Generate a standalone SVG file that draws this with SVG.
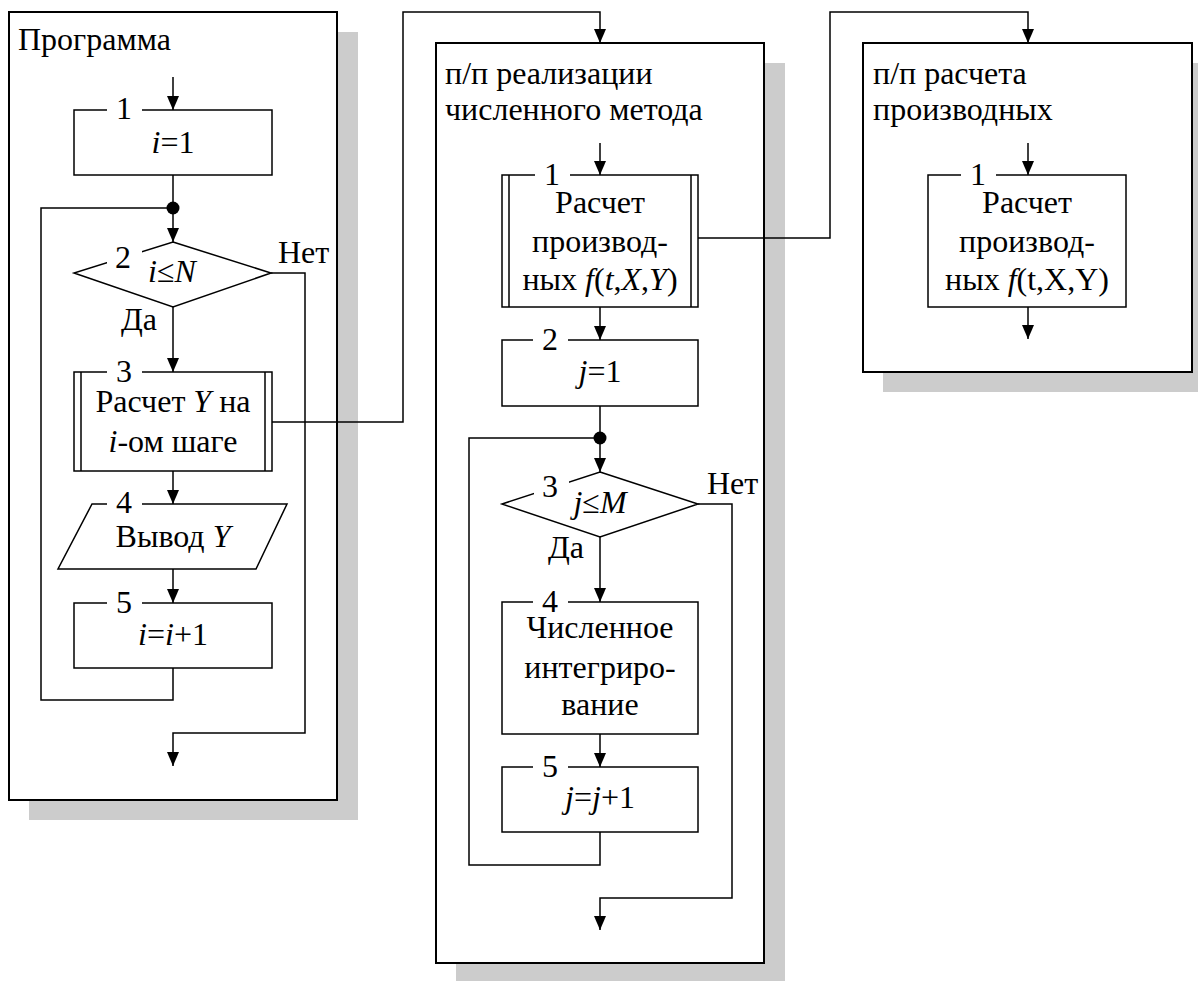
<svg xmlns="http://www.w3.org/2000/svg" width="1198" height="981" viewBox="0 0 1198 981">
<defs>
<marker id="arr" markerUnits="userSpaceOnUse" markerWidth="14" markerHeight="14" viewBox="0 0 14 14" refX="14" refY="7" orient="auto">
<path d="M0,1 L14,7 L0,13 Z" fill="#000"/>
</marker>
<style>
text{font-family:'Liberation Serif',serif;font-size:32px;fill:#000}
.c{text-anchor:middle}
.it{font-style:italic}
.shadow{fill:#cccccc;stroke:none}
.frame{fill:#fff;stroke:#000;stroke-width:2}
.box{fill:#fff;stroke:#000;stroke-width:1.5}
.ln{fill:none;stroke:#000;stroke-width:1.5}
.gap{fill:#fff;stroke:none}
</style>
</defs>
<rect width="1198" height="981" fill="#fff"/>
<g id="shadows">
<rect class="shadow" x="29" y="32" width="329" height="788"/>
<rect class="shadow" x="456" y="63" width="329" height="920"/>
<rect class="shadow" x="883" y="63" width="329" height="329"/>
</g>
<g id="frame-program">
<rect class="frame" x="9" y="12" width="328" height="788"/>
<text x="18" y="50">Программа</text>
</g>
<g id="frame-method">
<rect class="frame" x="436" y="43" width="328" height="920"/>
<text x="445" y="84">п/п реализации</text>
<text x="445" y="120">численного метода</text>
</g>
<g id="frame-deriv">
<rect class="frame" x="863" y="43" width="329" height="329"/>
<text x="873" y="84">п/п расчета</text>
<text x="873" y="120">производных</text>
</g>
<g id="connectors">
<path class="ln" d="M173,77 V110" marker-end="url(#arr)"/>
<path class="ln" d="M173,175 V208"/>
<path class="ln" d="M173,208 V242" marker-end="url(#arr)"/>
<path class="ln" d="M173,307 V372" marker-end="url(#arr)"/>
<path class="ln" d="M173,471 V504" marker-end="url(#arr)"/>
<path class="ln" d="M173,569 V603" marker-end="url(#arr)"/>
<path class="ln" d="M173,668 V700 H41 V208 H173"/>
<path class="ln" d="M271,273 H305 V733 H173 V766" marker-end="url(#arr)"/>
<path class="ln" d="M272,422 H403 V12 H600 V43" marker-end="url(#arr)"/>
<path class="ln" d="M600,143 V175" marker-end="url(#arr)"/>
<path class="ln" d="M600,307 V340" marker-end="url(#arr)"/>
<path class="ln" d="M600,406 V438"/>
<path class="ln" d="M600,438 V472" marker-end="url(#arr)"/>
<path class="ln" d="M600,537 V602" marker-end="url(#arr)"/>
<path class="ln" d="M600,734 V767" marker-end="url(#arr)"/>
<path class="ln" d="M600,832 V865 H469 V438 H600"/>
<path class="ln" d="M698,504 H732 V898 H600 V930" marker-end="url(#arr)"/>
<path class="ln" d="M698,238 H830 V12 H1028 V43" marker-end="url(#arr)"/>
<path class="ln" d="M1028,143 V175" marker-end="url(#arr)"/>
<path class="ln" d="M1028,307 V339" marker-end="url(#arr)"/>
<circle cx="173" cy="208" r="6.5" fill="#000"/>
<circle cx="600" cy="438" r="6.5" fill="#000"/>
<text x="278" y="263">Нет</text>
<text x="121" y="330">Да</text>
<text x="707" y="494">Нет</text>
<text x="548" y="558">Да</text>
</g>
<g id="p1">
<rect class="box" x="74" y="110" width="198" height="65"/>
<rect class="gap" x="107" y="105" width="35" height="10"/>
<text class="c" x="124" y="119">1</text>
<text class="c" x="173" y="153"><tspan class="it">i</tspan>=1</text>
</g>
<g id="p2">
<path class="box" d="M173,242 L271,273 L173,307 L74,273 Z"/>
<rect class="gap" x="107" y="248" width="35" height="17"/>
<text class="c" x="123" y="268">2</text>
<text class="c" x="172" y="282"><tspan class="it">i</tspan>≤<tspan class="it">N</tspan></text>
</g>
<g id="p3">
<rect class="box" x="74" y="372" width="198" height="99"/>
<path class="ln" d="M81,372 V471 M265,372 V471"/>
<rect class="gap" x="107" y="367" width="35" height="10"/>
<text class="c" x="124" y="382">3</text>
<text class="c" x="173" y="412">Расчет <tspan class="it">Y</tspan> на</text>
<text class="c" x="173" y="452"><tspan class="it">i</tspan>-ом шаге</text>
</g>
<g id="p4">
<path class="box" d="M92,504 H287 L256,569 H58 Z"/>
<rect class="gap" x="107" y="499" width="35" height="10"/>
<text class="c" x="124" y="513">4</text>
<text class="c" x="173" y="547">Вывод <tspan class="it">Y</tspan></text>
</g>
<g id="p5">
<rect class="box" x="74" y="603" width="198" height="65"/>
<rect class="gap" x="107" y="598" width="35" height="10"/>
<text class="c" x="124" y="613">5</text>
<text class="c" x="173" y="645"><tspan class="it">i</tspan>=<tspan class="it">i</tspan>+1</text>
</g>
<g id="m1">
<rect class="box" x="502" y="175" width="196" height="132"/>
<path class="ln" d="M509,175 V307 M691,175 V307"/>
<rect class="gap" x="535" y="170" width="35" height="10"/>
<text class="c" x="552" y="185">1</text>
<text class="c" x="600" y="213">Расчет</text>
<text class="c" x="600" y="252">производ-</text>
<text class="c" x="600" y="290">ных <tspan class="it">f</tspan>(<tspan class="it">t</tspan>,<tspan class="it">X</tspan>,<tspan class="it">Y</tspan>)</text>
</g>
<g id="m2">
<rect class="box" x="502" y="340" width="196" height="66"/>
<rect class="gap" x="533" y="335" width="35" height="10"/>
<text class="c" x="550" y="350">2</text>
<text class="c" x="600" y="382"><tspan class="it">j</tspan>=1</text>
</g>
<g id="m3">
<path class="box" d="M600,472 L698,504 L600,537 L502,504 Z"/>
<rect class="gap" x="534" y="478" width="35" height="17"/>
<text class="c" x="550" y="497">3</text>
<text class="c" x="600" y="513"><tspan class="it">j</tspan>≤<tspan class="it">M</tspan></text>
</g>
<g id="m4">
<rect class="box" x="502" y="602" width="196" height="132"/>
<rect class="gap" x="533" y="597" width="35" height="10"/>
<text class="c" x="550" y="612">4</text>
<text class="c" x="600" y="638">Численное</text>
<text class="c" x="600" y="678">интегриро-</text>
<text class="c" x="600" y="715">вание</text>
</g>
<g id="m5">
<rect class="box" x="502" y="767" width="196" height="65"/>
<rect class="gap" x="533" y="762" width="35" height="10"/>
<text class="c" x="550" y="777">5</text>
<text class="c" x="600" y="808"><tspan class="it">j</tspan>=<tspan class="it">j</tspan>+1</text>
</g>
<g id="d1">
<rect class="box" x="928" y="175" width="198" height="132"/>
<rect class="gap" x="961" y="170" width="35" height="10"/>
<text class="c" x="978" y="185">1</text>
<text class="c" x="1027" y="213">Расчет</text>
<text class="c" x="1027" y="252">производ-</text>
<text class="c" x="1027" y="290">ных <tspan class="it">f</tspan>(t,X,Y)</text>
</g>
</svg>
